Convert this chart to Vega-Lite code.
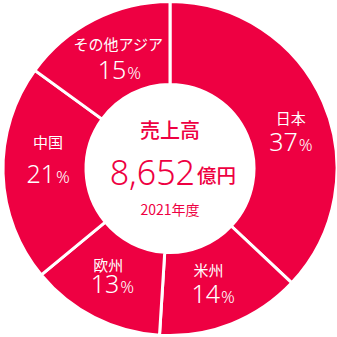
{
  "$schema": "https://vega.github.io/schema/vega-lite/v6.json",
  "width": 334,
  "height": 337,
  "padding": {"left": 3, "top": 0, "right": 0, "bottom": 0},
  "autosize": {"type": "none"},
  "background": "white",
  "config": {"view": {"stroke": null}},
  "datasets": {
    "sales": [
      {"region": "日本", "pct": 37, "order": 1},
      {"region": "米州", "pct": 14, "order": 2},
      {"region": "欧州", "pct": 13, "order": 3},
      {"region": "中国", "pct": 21, "order": 4},
      {"region": "その他アジア", "pct": 15, "order": 5}
    ],
    "center": [
      {"title": "売上高", "amount": "8,652", "unit": "億円", "year": "2021年度"}
    ]
  },
  "data": {"name": "sales"},
  "encoding": {
    "theta": {"field": "pct", "type": "quantitative", "stack": true, "scale": {"domain": [0, 100]}},
    "order": {"field": "order", "type": "quantitative"}
  },
  "layer": [
    {
      "mark": {"type": "arc", "outerRadius": 167, "innerRadius": 84, "color": "#EE0042", "stroke": "white", "strokeWidth": 3}
    },

    {"mark": {"type": "text", "radius": 125, "dx": 6, "dy": 0, "color": "white", "font": "Noto Sans CJK JP", "fontSize": 15, "baseline": "middle", "align": "center"},
     "encoding": {"text": {"condition": {"test": "datum.region === '日本'", "field": "region"}, "value": ""}}},
    {"mark": {"type": "text", "radius": 125, "dx": 13, "dy": 32, "color": "white", "font": "Noto Sans", "fontWeight": 300, "fontSize": 25, "baseline": "alphabetic", "align": "right"},
     "encoding": {"text": {"condition": {"test": "datum.region === '日本'", "field": "pct", "type": "quantitative"}, "value": ""}}},
    {"mark": {"type": "text", "radius": 125, "dx": 14, "dy": 32, "color": "white", "font": "Noto Sans", "fontWeight": 300, "fontSize": 17, "baseline": "alphabetic", "align": "left"},
     "encoding": {"text": {"condition": {"test": "datum.region === '日本'", "value": "%"}, "value": ""}}},

    {"mark": {"type": "text", "radius": 125, "dx": -7.5, "dy": -14, "color": "white", "font": "Noto Sans CJK JP", "fontSize": 15, "baseline": "middle", "align": "center"},
     "encoding": {"text": {"condition": {"test": "datum.region === '米州'", "field": "region"}, "value": ""}}},
    {"mark": {"type": "text", "radius": 125, "dx": 4, "dy": 18, "color": "white", "font": "Noto Sans", "fontWeight": 300, "fontSize": 25, "baseline": "alphabetic", "align": "right"},
     "encoding": {"text": {"condition": {"test": "datum.region === '米州'", "field": "pct", "type": "quantitative"}, "value": ""}}},
    {"mark": {"type": "text", "radius": 125, "dx": 5, "dy": 18, "color": "white", "font": "Noto Sans", "fontWeight": 300, "fontSize": 17, "baseline": "alphabetic", "align": "left"},
     "encoding": {"text": {"condition": {"test": "datum.region === '米州'", "value": "%"}, "value": ""}}},

    {"mark": {"type": "text", "radius": 125, "dx": -5, "dy": -14, "color": "white", "font": "Noto Sans CJK JP", "fontSize": 15, "baseline": "middle", "align": "center"},
     "encoding": {"text": {"condition": {"test": "datum.region === '欧州'", "field": "region"}, "value": ""}}},
    {"mark": {"type": "text", "radius": 125, "dx": 6, "dy": 13.5, "color": "white", "font": "Noto Sans", "fontWeight": 300, "fontSize": 25, "baseline": "alphabetic", "align": "right"},
     "encoding": {"text": {"condition": {"test": "datum.region === '欧州'", "field": "pct", "type": "quantitative"}, "value": ""}}},
    {"mark": {"type": "text", "radius": 125, "dx": 7, "dy": 13.5, "color": "white", "font": "Noto Sans", "fontWeight": 300, "fontSize": 17, "baseline": "alphabetic", "align": "left"},
     "encoding": {"text": {"condition": {"test": "datum.region === '欧州'", "value": "%"}, "value": ""}}},

    {"mark": {"type": "text", "radius": 125, "dx": 3, "dy": -29, "color": "white", "font": "Noto Sans CJK JP", "fontSize": 15, "baseline": "middle", "align": "center"},
     "encoding": {"text": {"condition": {"test": "datum.region === '中国'", "field": "region"}, "value": ""}}},
    {"mark": {"type": "text", "radius": 125, "dx": 10, "dy": 11, "color": "white", "font": "Noto Sans", "fontWeight": 300, "fontSize": 25, "baseline": "alphabetic", "align": "right"},
     "encoding": {"text": {"condition": {"test": "datum.region === '中国'", "field": "pct", "type": "quantitative"}, "value": ""}}},
    {"mark": {"type": "text", "radius": 125, "dx": 11, "dy": 11, "color": "white", "font": "Noto Sans", "fontWeight": 300, "fontSize": 17, "baseline": "alphabetic", "align": "left"},
     "encoding": {"text": {"condition": {"test": "datum.region === '中国'", "value": "%"}, "value": ""}}},

    {"mark": {"type": "text", "radius": 125, "dx": 5, "dy": -12, "color": "white", "font": "Noto Sans CJK JP", "fontSize": 15, "baseline": "middle", "align": "center"},
     "encoding": {"text": {"condition": {"test": "datum.region === 'その他アジア'", "field": "region"}, "value": ""}}},
    {"mark": {"type": "text", "radius": 125, "dx": 13, "dy": 21.5, "color": "white", "font": "Noto Sans", "fontWeight": 300, "fontSize": 25, "baseline": "alphabetic", "align": "right"},
     "encoding": {"text": {"condition": {"test": "datum.region === 'その他アジア'", "field": "pct", "type": "quantitative"}, "value": ""}}},
    {"mark": {"type": "text", "radius": 125, "dx": 14, "dy": 21.5, "color": "white", "font": "Noto Sans", "fontWeight": 300, "fontSize": 17, "baseline": "alphabetic", "align": "left"},
     "encoding": {"text": {"condition": {"test": "datum.region === 'その他アジア'", "value": "%"}, "value": ""}}},

    {
      "data": {"name": "center"},
      "encoding": {"theta": null, "order": null},
      "layer": [
        {"mark": {"type": "text", "dy": -36.5, "color": "#EE0042", "font": "Noto Sans CJK JP", "fontWeight": 500, "fontSize": 20, "baseline": "middle", "align": "center"},
         "encoding": {"text": {"field": "title"}}},
        {"mark": {"type": "text", "dy": 16.5, "dx": 25, "color": "#EE0042", "font": "Noto Sans", "fontWeight": 300, "fontSize": 34, "baseline": "alphabetic", "align": "right"},
         "encoding": {"text": {"field": "amount"}}},
        {"mark": {"type": "text", "dy": 8, "dx": 27, "color": "#EE0042", "font": "Noto Sans CJK JP", "fontWeight": 500, "fontSize": 19.5, "baseline": "middle", "align": "left"},
         "encoding": {"text": {"field": "unit"}}},
        {"mark": {"type": "text", "dy": 42, "color": "#EE0042", "font": "Noto Sans CJK JP", "fontSize": 14, "baseline": "middle", "align": "center"},
         "encoding": {"text": {"field": "year"}}}
      ]
    }
  ]
}
